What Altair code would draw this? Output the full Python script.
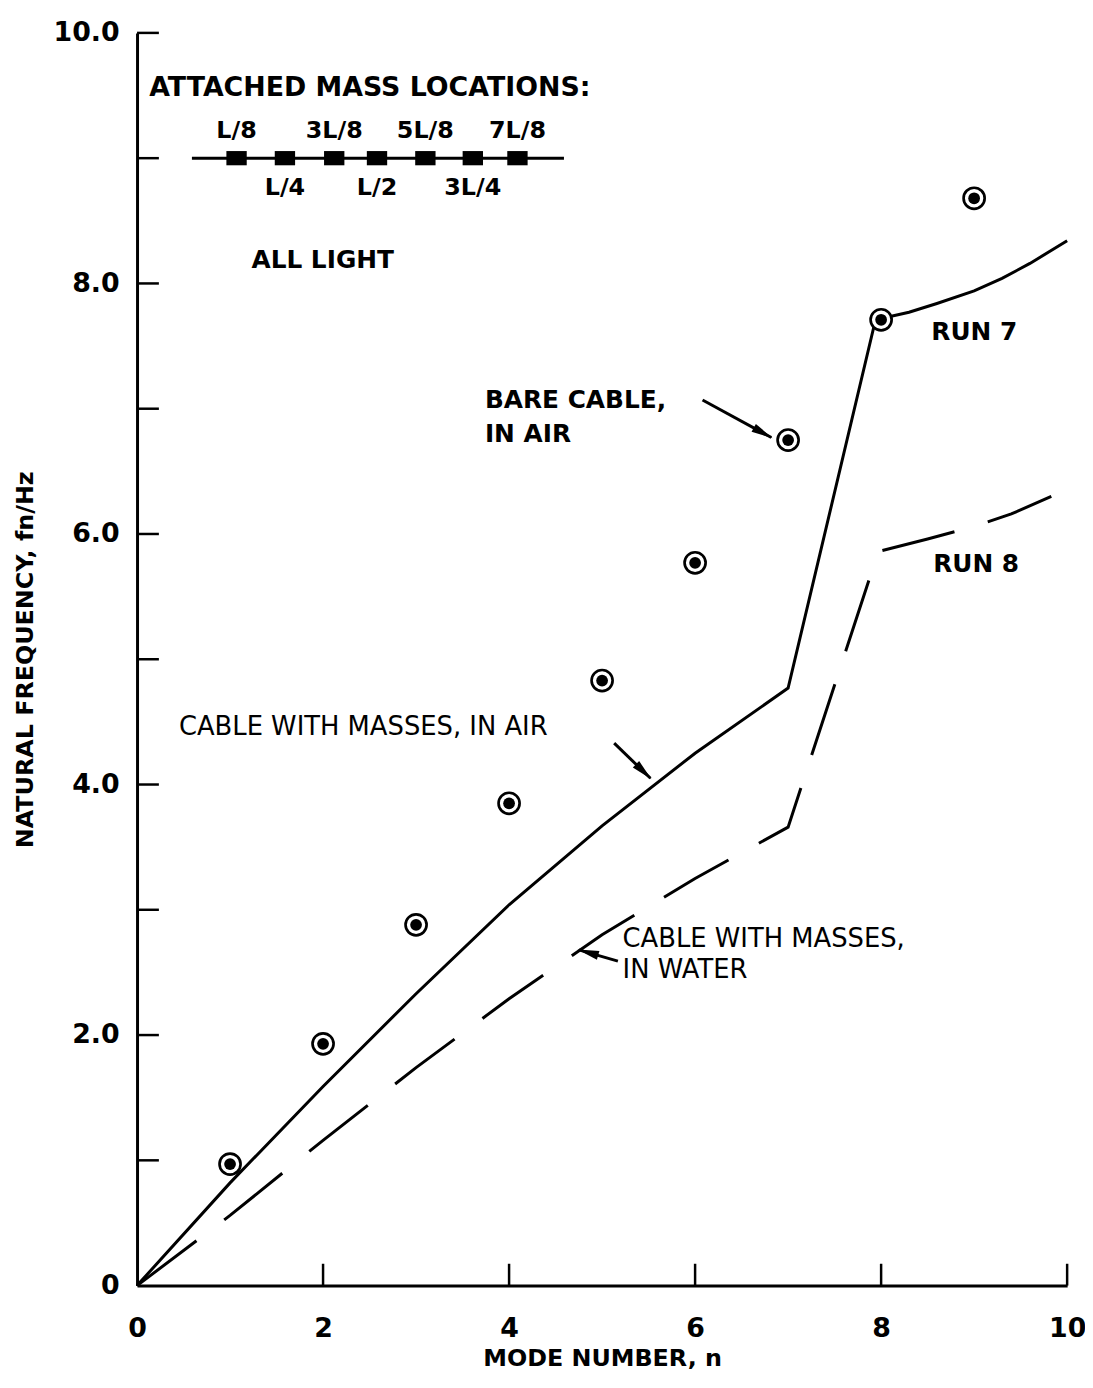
import math
import altair as alt
import pandas as pd

FONT = "DejaVu Sans"

# ---------------- data ----------------
bare_n = [1, 2, 3, 4, 5, 6, 7, 8, 9]
bare_f = [0.97, 1.93, 2.88, 3.85, 4.83, 5.77, 6.75, 7.71, 8.68]

run7_n = [0, 1, 2, 3, 4, 5, 6, 7, 7.94, 8.3, 8.6, 9.0, 9.3, 9.6, 10.0]
run7_f = [0, 0.82, 1.59, 2.33, 3.04, 3.67, 4.25, 4.77, 7.71, 7.77, 7.84, 7.94, 8.04, 8.16, 8.34]

run8_n = [0, 1, 2, 3, 4, 5, 6, 7, 7.97, 8.5, 9.0, 9.4, 9.83]
run8_f = [0, 0.56, 1.16, 1.74, 2.29, 2.80, 3.25, 3.66, 5.86, 5.96, 6.06, 6.16, 6.30]

x_label_vals = [0, 2, 4, 6, 8, 10]
x_tick_vals = [2, 4, 6, 8, 10]
y_tick_vals = [1, 2, 3, 4, 5, 6, 7, 8, 9, 10]

# mass-location sketch
mass_line_n = [0.59, 4.59]
mass_line_f = 9.0
mass_n = [1.07, 1.59, 2.12, 2.58, 3.10, 3.61, 4.09]
top_labels = ["L/8", "3L/8", "5L/8", "7L/8"]
top_label_n = [1.07, 2.12, 3.10, 4.09]
bot_labels = ["L/4", "L/2", "3L/4"]
bot_label_n = [1.59, 2.58, 3.61]

# free annotations (left aligned)
head_text = ["ATTACHED MASS LOCATIONS:"]
head_n = [0.13]
head_f = [9.56]
ann_text = ["ALL LIGHT", "BARE CABLE,", "IN AIR", "RUN 7", "RUN 8"]
ann_n = [1.23, 3.74, 3.74, 8.54, 8.56]
ann_f = [8.19, 7.07, 6.80, 7.61, 5.76]
thin_text = ["CABLE WITH MASSES, IN AIR", "CABLE WITH MASSES,", "IN WATER"]
thin_n = [0.45, 5.22, 5.22]
thin_f = [4.46, 2.77, 2.52]

# arrows (tail -> tip)
arr_n = [6.08, 5.13, 5.17]
arr_f = [7.07, 4.33, 2.59]
arr_n2 = [6.82, 5.52, 4.75]
arr_f2 = [6.77, 4.05, 2.68]

# ---------------- layout ----------------
W, H = 937, 1262
PX_N = W / 10.0
PX_F = H / 10.0

xs = alt.Scale(domain=[0, 10], nice=False, zero=False)
ys = alt.Scale(domain=[0, 10], nice=False, zero=False)

xaxis = alt.Axis(values=x_label_vals, ticks=False, grid=False, domainWidth=3, domainColor="black",
                 labelFont=FONT, labelFontSize=27, labelFontWeight="bold", labelColor="black",
                 labelPadding=30, labelFlush=False, labelOverlap=False,
                 title="MODE NUMBER, n", titleFont=FONT, titleFontSize=24, titleFontWeight="bold",
                 titleColor="black", titlePadding=6)
yaxis = alt.Axis(values=[0] + y_tick_vals, ticks=False, grid=False, domainWidth=3, domainColor="black",
                 labelExpr="datum.value == 0 ? '0' : (datum.value % 2 == 0 ? format(datum.value, '.1f') : '')",
                 labelFont=FONT, labelFontSize=27, labelFontWeight="bold", labelColor="black",
                 labelPadding=18, labelFlush=False, labelOverlap=False,
                 title="NATURAL FREQUENCY, fn/Hz", titleFont=FONT, titleFontSize=24, titleFontWeight="bold",
                 titleColor="black", titlePadding=16)

X = alt.X("n:Q", scale=xs, axis=xaxis)
Y = alt.Y("f:Q", scale=ys, axis=yaxis)

# ---------------- layers ----------------
TICK_PX = 22
ticks_df = pd.DataFrame(
    [{"n": v, "f": 0.0, "n2": v, "f2": TICK_PX / PX_F} for v in x_tick_vals] +
    [{"n": 0.0, "f": v, "n2": TICK_PX / PX_N, "f2": v} for v in y_tick_vals]
)
ticks = alt.Chart(ticks_df).mark_rule(color="black", strokeWidth=2.5).encode(
    x=X, y=Y, x2="n2:Q", y2="f2:Q")

run7 = alt.Chart(pd.DataFrame({"n": run7_n, "f": run7_f})).mark_line(
    color="black", strokeWidth=3).encode(x=X, y=Y, order="n:Q")
run8 = alt.Chart(pd.DataFrame({"n": run8_n, "f": run8_f})).mark_line(
    color="black", strokeWidth=3, strokeDash=[75, 35]).encode(x=X, y=Y, order="n:Q")

bare_df = pd.DataFrame({"n": bare_n, "f": bare_f})
ring = alt.Chart(bare_df).mark_point(shape="circle", filled=True, fill="white", stroke="black",
                                      strokeWidth=2.7, size=450, opacity=1).encode(x=X, y=Y)
dot = alt.Chart(bare_df).mark_point(shape="circle", filled=True, color="black", size=140,
                                     opacity=1).encode(x=X, y=Y)

# mass sketch
mline = alt.Chart(pd.DataFrame({"n": [mass_line_n[0]], "f": [mass_line_f], "n2": [mass_line_n[1]],
                                "f2": [mass_line_f]})).mark_rule(color="black", strokeWidth=3).encode(
    x=X, y=Y, x2="n2:Q", y2="f2:Q")
msq = alt.Chart(pd.DataFrame({"n": mass_n, "f": [mass_line_f] * len(mass_n)})).mark_point(
    shape="M-1,-0.7L1,-0.7L1,0.7L-1,0.7Z", filled=True, color="black", size=420, opacity=1).encode(x=X, y=Y)


def text_layer(texts, ns, fs, size, weight="bold", align="left"):
    df = pd.DataFrame({"n": ns, "f": fs, "t": texts})
    return alt.Chart(df).mark_text(font=FONT, fontSize=size, fontWeight=weight, align=align,
                                   baseline="middle", color="black").encode(x=X, y=Y, text="t:N")


top_txt = text_layer(top_labels, top_label_n, [9.22] * len(top_labels), 24, align="center")
bot_txt = text_layer(bot_labels, bot_label_n, [8.76] * len(bot_labels), 24, align="center")
head_txt = text_layer(head_text, head_n, head_f, 27)
ann_txt = text_layer(ann_text, ann_n, ann_f, 25)
thin_txt = text_layer(thin_text, thin_n, thin_f, 26, weight="normal")

# arrows
arr_df = pd.DataFrame({"n": arr_n, "f": arr_f, "n2": arr_n2, "f2": arr_f2})
shafts = alt.Chart(arr_df).mark_rule(color="black", strokeWidth=3).encode(x=X, y=Y, x2="n2:Q", y2="f2:Q")
heads = []
for a, b, c, d in zip(arr_n, arr_f, arr_n2, arr_f2):
    dx = (c - a) * PX_N
    dy = -(d - b) * PX_F
    L = math.hypot(dx, dy)
    ux, uy = dx / L, dy / L
    ang = math.degrees(math.atan2(dx, -dy)) % 360
    hn = c - 10 * ux / PX_N
    hf = d + 10 * uy / PX_F
    heads.append({"n": hn, "f": hf, "ang": ang})
heads_df = pd.DataFrame(heads)
head_marks = alt.Chart(heads_df).mark_point(
    shape="M0,-1L0.4,0.9L-0.4,0.9Z", filled=True, color="black", size=520, opacity=1
).encode(x=X, y=Y, angle=alt.Angle("ang:Q", scale=None))

chart = alt.layer(
    ticks, run7, run8, ring, dot, mline, msq, top_txt, bot_txt, head_txt, ann_txt, thin_txt, shafts, head_marks
).properties(
    width=W, height=H,
    autosize=alt.AutoSizeParams(type="none"),
    padding={"left": 130, "top": 20, "right": 18, "bottom": 88},
    background="white",
).configure_view(stroke=None)

chart.save("out.html", embed_options={"renderer": "svg", "actions": False})
